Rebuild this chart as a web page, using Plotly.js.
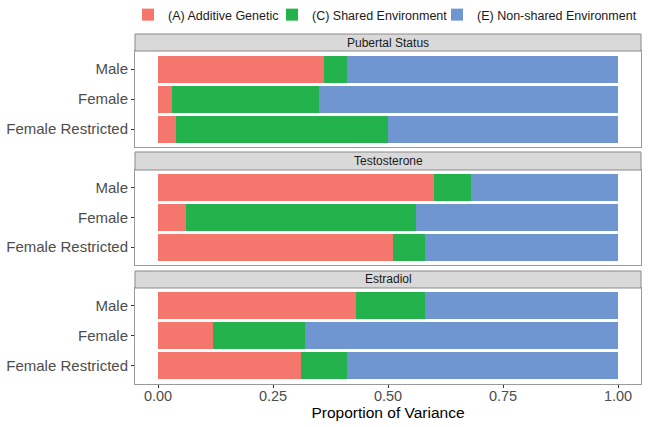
<!DOCTYPE html>
<html><head><meta charset="utf-8">
<script src="https://cdn.plot.ly/plotly-3.0.1.min.js"></script>
<style>html,body{margin:0;padding:0;background:#fff}</style>
</head><body><div id="chart" style="width:651px;height:427px"></div>
<script>
const panels = ['Pubertal Status', 'Testosterone', 'Estradiol'];
const groups = ['Male', 'Female', 'Female Restricted'];
const components = ['(A) Additive Genetic', '(C) Shared Environment', '(E) Non-shared Environment'];

const pubertalA = [0.36, 0.03, 0.04];
const pubertalC = [0.05, 0.32, 0.46];
const pubertalE = [0.59, 0.65, 0.50];

const testosteroneA = [0.60, 0.06, 0.51];
const testosteroneC = [0.08, 0.50, 0.07];
const testosteroneE = [0.32, 0.44, 0.42];

const estradiolA = [0.43, 0.12, 0.31];
const estradiolC = [0.15, 0.20, 0.10];
const estradiolE = [0.42, 0.68, 0.59];

const xTicks = [0, 0.25, 0.5, 0.75, 1];

const panelData = [
  [pubertalA, pubertalC, pubertalE],
  [testosteroneA, testosteroneC, testosteroneE],
  [estradiolA, estradiolC, estradiolE]
];
const colors = ['#F4766D', '#23B24B', '#6F96D0'];
const yNames = ['y', 'y2', 'y3'];
const legendIds = ['legend', 'legend2', 'legend3'];

const FONT = '"Liberation Sans", Arial, Helvetica, sans-serif';
const traces = [];
panelData.forEach((series, p) => {
  series.forEach((vals, k) => {
    traces.push({
      type: 'bar', orientation: 'h',
      x: vals, y: groups,
      xaxis: 'x', yaxis: yNames[p],
      name: components[k], legendgroup: components[k], legend: legendIds[k],
      showlegend: p === 0,
      marker: {color: colors[k], line: {width: 0}},
      hoverinfo: 'x+y+name'
    });
  });
});

// vertical layout of panels (paper fractions)
const domains = [[0.6771, 0.9514], [0.34, 0.6114], [0, 0.2743]];
const strips = [[0.9514, 1.0], [0.6114, 0.6629], [0.2743, 0.3229]];

function yAxis(d) {
  return {
    domain: d, anchor: 'x', type: 'category', categoryarray: groups, categoryorder: 'array',
    range: [2.6, -0.6], autorange: false,
    showline: true, linecolor: '#9a9a9a', linewidth: 1, mirror: true,
    ticks: 'outside', ticklen: 3, tickcolor: '#333', tickwidth: 1,
    showgrid: false, zeroline: false,
    tickfont: {family: FONT, size: 15, color: '#4D4D4D'}
  };
}

function legendAt(x) {
  return {
    orientation: 'h', xref: 'container', x: x, xanchor: 'left',
    yref: 'container', y: 1, yanchor: 'top',
    font: {family: FONT, size: 12.5, color: '#1A1A1A'},
    bgcolor: 'rgba(0,0,0,0)', borderwidth: 0
  };
}

const shapes = strips.map(s => ({
  type: 'rect', xref: 'paper', yref: 'paper', x0: 0, x1: 1, y0: s[0], y1: s[1],
  fillcolor: '#D9D9D9', line: {color: '#8a8a8a', width: 1}
}));
const annotations = strips.map((s, i) => ({
  xref: 'paper', yref: 'paper', x: 0.5, y: (s[0] + s[1]) / 2, xanchor: 'center', yanchor: 'middle',
  text: panels[i], showarrow: false, font: {family: FONT, size: 12, color: '#1A1A1A'}
}));

const layout = {
  width: 651, height: 427,
  margin: {l: 135, r: 10, t: 34, b: 43, pad: 0},
  paper_bgcolor: '#fff', plot_bgcolor: '#fff',
  font: {family: FONT},
  barmode: 'stack', bargap: 0.1,
  showlegend: true,
  legend: legendAt(0.1966),
  legend2: legendAt(0.4178),
  legend3: legendAt(0.6713),
  xaxis: {
    anchor: 'y3', range: [-0.05, 1.05], autorange: false,
    tickvals: xTicks, tickformat: '.2f',
    ticks: 'outside', ticklen: 3, tickcolor: '#333', tickwidth: 1,
    ticklabelstandoff: -4,
    showline: true, linecolor: '#9a9a9a', linewidth: 1, mirror: 'all',
    showgrid: false, zeroline: false,
    tickfont: {family: FONT, size: 14.5, color: '#4D4D4D'},
    title: {text: 'Proportion of Variance', font: {family: FONT, size: 15.5, color: '#000'}, standoff: 0}
  },
  yaxis: yAxis(domains[0]),
  yaxis2: yAxis(domains[1]),
  yaxis3: yAxis(domains[2]),
  shapes: shapes,
  annotations: annotations
};

Plotly.newPlot('chart', traces, layout, {displayModeBar: false, staticPlot: true});
</script>
</body></html>
